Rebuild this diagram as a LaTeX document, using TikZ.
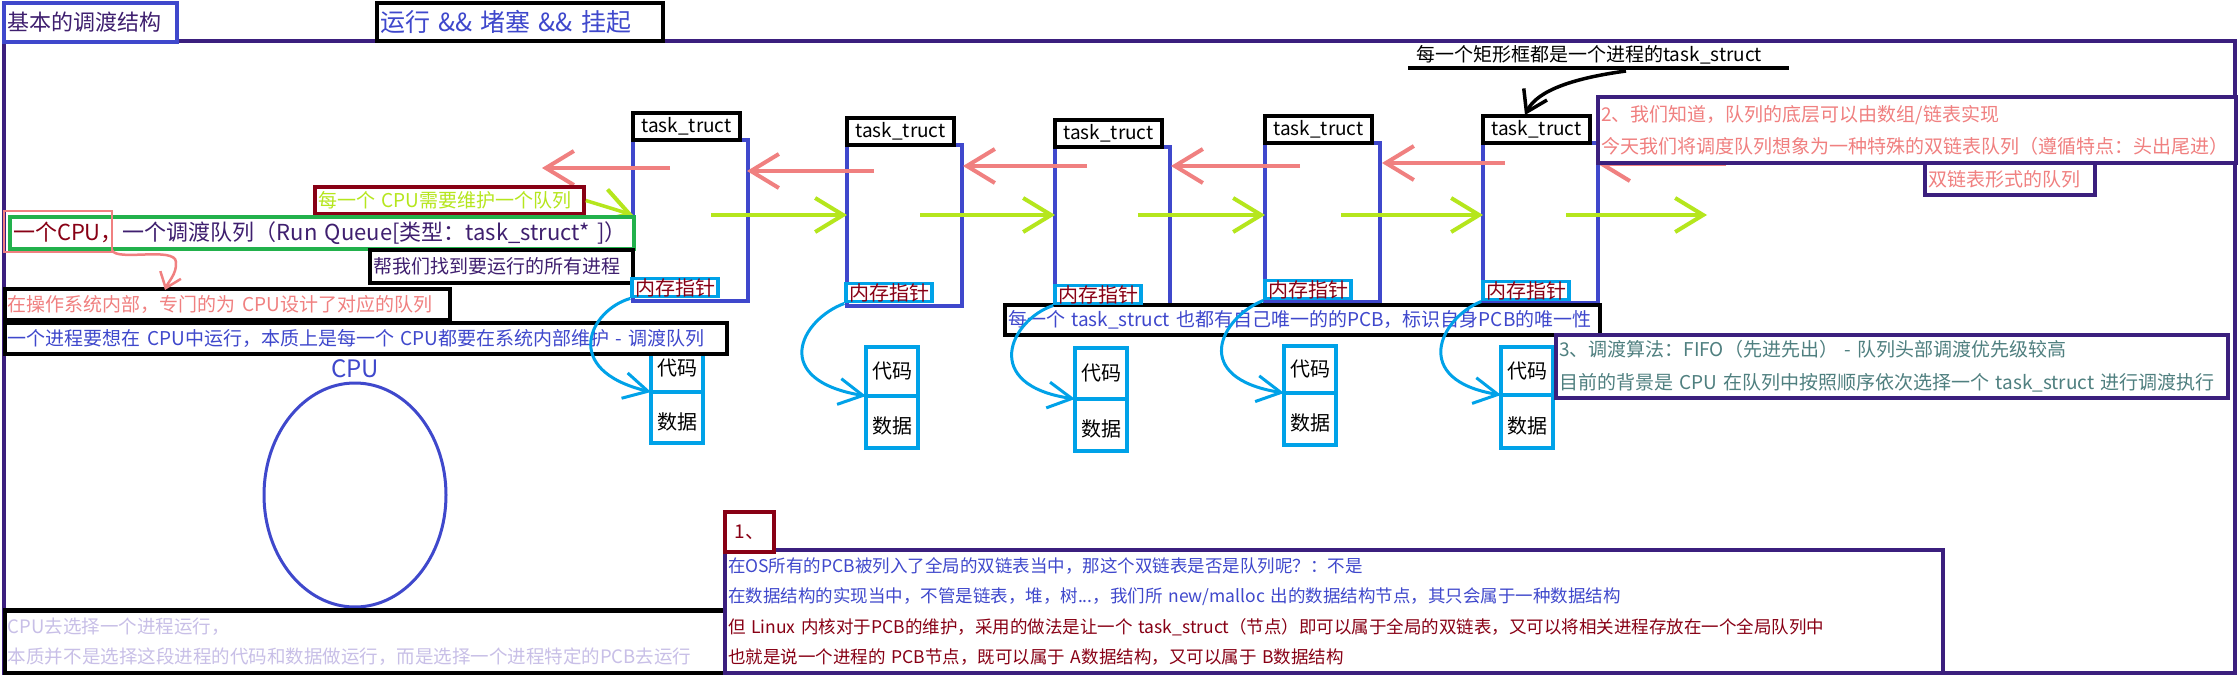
\documentclass[tikz,border=0pt]{standalone}
\usepackage{fontspec}
\setmainfont{Noto Sans CJK SC}
\usetikzlibrary{arrows.meta,shapes.geometric}
\definecolor{frm}{HTML}{3B1F7E}
\definecolor{bl}{HTML}{3F48CC}
\definecolor{cy}{HTML}{00A2E8}
\definecolor{pk}{HTML}{F08080}
\definecolor{gr}{HTML}{B5E61D}
\definecolor{dr}{HTML}{880015}
\definecolor{gb}{HTML}{22B14C}
\definecolor{lav}{HTML}{C8BFE7}
\definecolor{sl}{HTML}{4F7F7F}
\definecolor{dp}{HTML}{3F1F6F}
\newcommand\bx[7][]{%
 \pgfmathsetmacro\bw{#5-#3}\pgfmathsetmacro\bh{#6-#4}%
 \pgfmathsetmacro\bcx{(#3+#5)/2}\pgfmathsetmacro\bcy{(#4+#6)/2}%
 \pgfmathsetmacro\btw{\bw-6}%
 \node[bxs,#1,minimum width=\bw pt,minimum height=\bh pt,text width=\btw pt] (#2) at (\bcx,\bcy) {#7};}
% i, x, labely, bodybottom, codex, codetop, div, codebottom
\newcommand\mytask[8]{%
 \draw[bl,line width=3.5pt] (#2,#3+27) rectangle (#2+115,#4);
 \bx[draw=black,align=center]{lab#1}{#2}{#3}{#2+107}{#3+27}{task\_truct}
 \draw[cy,line width=3.5pt] (#5,#6) rectangle (#5+52,#7) (#5,#7) rectangle (#5+52,#8);
 \node[font=\fontsize{20}{22}\selectfont] (code#1) at (#5+26,{(#6+#7)/2}) {代码};
 \node[font=\fontsize{20}{22}\selectfont] (data#1) at (#5+26,{(#7+#8)/2+4}) {数据};
 \coordinate (div#1) at (#5,#7);
}
\newcommand\mymem[3]{%
 \bx[draw=cy,text=dr,font=\fontsize{20}{22}\selectfont]{mem#1}{#2}{#3-29}{#2+86}{#3+2}{内存指针}}
\tikzset{
 bxs/.style={draw,line width=3.5pt,inner xsep=3pt,inner ysep=0pt,align=left,fill=white,font=\fontsize{19}{22}\selectfont},
 pka/.style={pk,line width=4pt,-{Straight Barb[length=28pt,width=34pt,line width=4pt]}},
 gra/.style={gr,line width=4pt,-{Straight Barb[length=28pt,width=34pt,line width=4pt]}},
 cya/.style={cy,line width=3pt,-{Straight Barb[length=24pt,width=26pt,line width=3pt]}},
}
\begin{document}
\begin{tikzpicture}[x=1pt,y=-1pt]
\useasboundingbox (0,0) rectangle (2240,676);
\fill[white] (0,0) rectangle (2240,676);
\draw[frm,line width=4pt] (4,41) rectangle (2235,673);
\bx[draw=bl,text=dp,font=\fontsize{22}{25}\selectfont]{t1}{4}{3}{177}{42}{基本的调渡结构}
\bx[draw=black,text=bl,font=\fontsize{25}{27}\selectfont]{t2}{377}{3}{663}{41}{运行 \&\& 堵塞 \&\& 挂起}

\mytask{1}{633}{113}{301}{651}{345}{392}{443}
\mytask{2}{847}{118}{306}{866}{347}{396}{448}
\mytask{3}{1055}{120}{306}{1075}{348}{399}{451}
\mytask{4}{1265}{116}{302}{1284}{346}{393}{445}
\mytask{5}{1483}{116}{303}{1501}{347}{395}{448}

% pink arrows
\draw[pka] (670,168) -- (542,168);
\draw[pka] (874,171) -- (747,171);
\draw[pka] (1087,166) -- (963,166);
\draw[pka] (1300,166) -- (1171,166);
\draw[pka] (1505,163) -- (1382,163);
\draw[pka] (1726,164) -- (1598,164);
% green arrows
\draw[gra] (711,215) -- (847,215);
\draw[gra] (920,215) -- (1055,215);
\draw[gra] (1138,215) -- (1265,215);
\draw[gra] (1341,215) -- (1483,215);
\draw[gra] (1566,215) -- (1707,215);

% left texts
\bx[draw=dr,text=gr]{b1}{315}{187}{584}{214}{每一个 CPU需要维护一个队列}
\draw[gra,line width=3.5pt] (b1.east) -- (633,215);
\bx[draw=gb,text=dp,line width=4pt,font=\fontsize{22}{24}\selectfont]{b2}{10}{217}{634}{249}{\textcolor{dr}{一个CPU，}一个调渡队列（Run Queue[类型：task\_struct* ]）}
\draw[pk,line width=2.5pt] (4,211) rectangle (112,252);
\bx[draw=black,text=dp]{b3}{370}{250}{633}{283}{帮我们找到要运行的所有进程}
\bx[draw=black,text=pk]{b4}{5}{289}{450}{320}{在操作系统内部，专门的为 CPU设计了对应的队列}
\draw[pk,line width=2.5pt,-{Straight Barb[length=14pt,width=22pt,line width=2.5pt]}] (112,250) .. controls (116,262) and (175,246) .. (176,262) .. controls (177,274) and (168,282) .. (165,290);
\bx[draw=black,text=bl]{b5}{5}{323}{727}{354}{一个进程要想在 CPU中运行，本质上是每一个 CPU都要在系统内部维护 - 调渡队列}

\bx[draw=black,text=bl]{b6}{1005}{305}{1600}{335}{每一个 task\_struct 也都有自己唯一的的PCB，标识自身PCB的唯一性}

\mymem{1}{632}{301}
\mymem{2}{846}{306}
\mymem{3}{1055}{308}
\mymem{4}{1265}{303}
\mymem{5}{1483}{304}

\draw[cya] (mem1.south west) .. controls (590,310) and (560,370) .. (div1);
\draw[cya] (mem2.south west) .. controls (800,320) and (770,380) .. (div2);
\draw[cya] (mem3.south west) .. controls (1010,320) and (980,385) .. (div3);
\draw[cya] (mem4.south west) .. controls (1220,318) and (1190,378) .. (div4);
\draw[cya] (mem5.south west) .. controls (1440,318) and (1410,380) .. (div5);

% right side
\node[anchor=base west,font=\fontsize{19}{20}\selectfont,inner sep=0] (rt) at (1416,62) {每一个矩形框都是一个进程的task\_struct};
\draw[line width=3.5pt] (1408,68) -- (1789,68);
\coordinate (ra) at (1626,71);
\coordinate (rb) at (1525,115);
\draw[line width=3.5pt,-{Straight Barb[length=20pt,width=26pt,line width=3.5pt]}] (ra) .. controls (1560,80) and (1535,95) .. (rb);
\bx[draw=frm,text=pk,font=\fontsize{19}{32}\selectfont]{r2}{1598}{97}{2236}{163}{2、我们知道，队列的底层可以由数组/链表实现\\今天我们将调度队列想象为一种特殊的双链表队列（遵循特点：头出尾进）}
\bx[draw=frm,text=pk]{r3}{1925}{163}{2095}{195}{双链表形式的队列}
\bx[draw=frm,text=sl,font=\fontsize{19}{33}\selectfont]{r4}{1556}{335}{2228}{398}{3、调渡算法：FIFO（先进先出） -  队列头部调渡优先级较高\\目前的背景是 CPU 在队列中按照顺序依次选择一个 task\_struct 进行调渡执行}

% CPU
\node[text=bl,font=\fontsize{24}{26}\selectfont] (cpul) at (355,369) {CPU};
\node[draw=bl,line width=3pt,ellipse,inner sep=0,minimum width=182pt,minimum height=224pt] (cpu) at (355,495) {};

% bottom
\bx[draw=black,text=lav,font=\fontsize{18.5}{30}\selectfont]{d1}{5}{610}{725}{673}{CPU去选择一个进程运行，\\本质并不是选择这段进程的代码和数据做运行，而是选择一个进程特定的PCB去运行}
\draw[line width=5pt] (5,610) -- (725,610);
\bx[draw=frm,font=\fontsize{17.5}{30.5}\selectfont]{d2}{725}{550}{1943}{673}{\textcolor{bl}{在OS所有的PCB被列入了全局的双链表当中，那这个双链表是否是队列呢？：不是}\\\textcolor{bl}{在数据结构的实现当中，不管是链表，堆，树...，我们所 new/malloc 出的数据结构节点，其只会属于一种数据结构}\\\textcolor{dr}{但 Linux 内核对于PCB的维护，采用的做法是让一个 task\_struct（节点）即可以属于全局的双链表，又可以将相关进程存放在一个全局队列中}\\\textcolor{dr}{也就是说一个进程的 PCB节点，既可以属于 A数据结构，又可以属于 B数据结构}}
\bx[draw=dr,text=dr,align=center,inner xsep=2pt,line width=4pt]{d3}{725}{512}{774}{552}{1、}
\end{tikzpicture}
\end{document}
